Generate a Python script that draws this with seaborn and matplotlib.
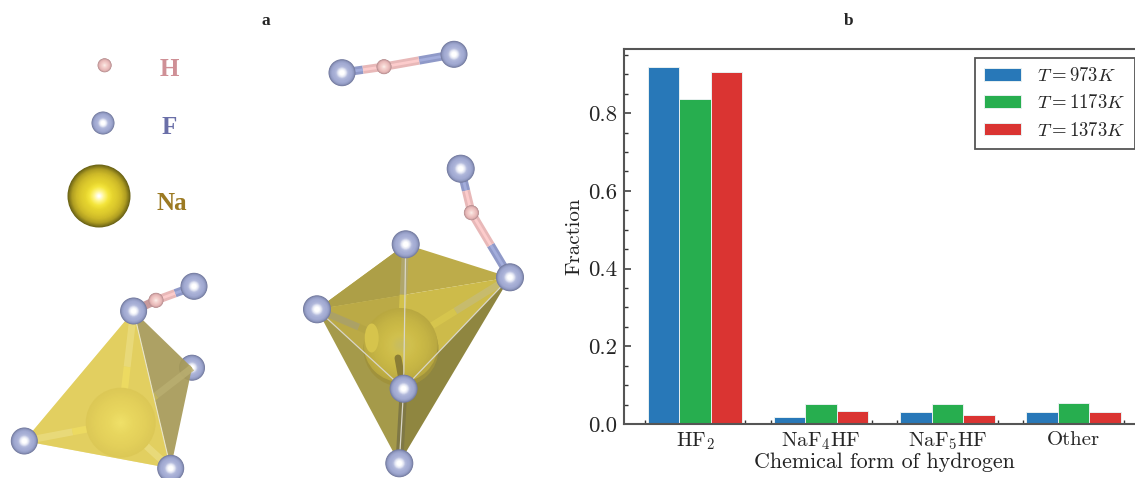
import matplotlib

matplotlib.use("Agg")
import matplotlib.pyplot as plt
import numpy as np
import pandas as pd
import seaborn as sns
from matplotlib.colors import to_rgb
from matplotlib.patches import Circle, Ellipse, Polygon
from matplotlib.ticker import MultipleLocator

# bar chart values
forms = ["HF$_2$", "NaF$_4$HF", "NaF$_5$HF", "Other"]
temps = ["$T=973K$", "$T=1173K$", "$T=1373K$"]
frac_973 = [0.919, 0.017, 0.032, 0.030]
frac_1173 = [0.837, 0.051, 0.051, 0.055]
frac_1373 = [0.906, 0.033, 0.024, 0.032]
bar_colors = ["#2878b8", "#27ae4f", "#da3432"]

# atoms of the structure panel, in image pixels
key_h = (104.6, 65.3)
key_f = (103, 123)
key_na = (99, 196)
free_mol = [(342, 72.7), (384, 66.7), (454, 54.3)]
right_mol = [(460.7, 168.7), (471.4, 212.7), (510, 277.3)]
left_mol = [(133.6, 311), (156, 300.3), (194, 286.3)]
left_f = {"right": (192, 367.7), "left": (24.3, 441), "bottom": (170.7, 468.3)}
left_na = (120.7, 422.7)
right_f = {"top": (405.7, 244.3), "left": (317, 309.3), "front": (403.6, 388.7), "bottom": (399.3, 463.3)}
right_na = (400.7, 345)

F_RAMP = ["#747b9f", "#949dc5", "#a3abd3", "#a8b0d6", "#b4bbdd", "#e4e7f4", "#ffffff", "#ffffff"]
H_RAMP = ["#b58d8f", "#e6b6b6", "#f0c6c4", "#f6d6d2", "#fbeeea"]
NA_RAMP = ["#6b6316", "#b09e22", "#cdb928", "#dcc92c", "#e6d42e", "#f5e63c", "#fff68a", "#ffffff"]
NA_SOFT = ["#dcc856", "#e3d05a", "#e8d65e", "#efe068"]
NA_DARK = ["#b9a840", "#c4b344", "#ccba46", "#d0c04e", "#c8bc62"]


def ball(ax, center, r, ramp, zorder, n=30):
    stops = np.array([to_rgb(c) for c in ramp])
    pos = np.linspace(0, 1, len(ramp))
    for i in range(n):
        t = i / (n - 1)
        col = [np.interp(t, pos, stops[:, k]) for k in range(3)]
        ax.add_patch(Circle(center, r * (1 - t * 0.96), fc=col, ec="none", zorder=zorder))


def bond(ax, a, b, zorder, colors=("#8f99c8", "#e8b8b8"), core=True):
    # half and half colouring, fluorine side first
    a, b = np.array(a), np.array(b)
    mid = (a + b) / 2
    for start, end, col in [(a, mid, colors[0]), (mid, b, colors[1])]:
        ax.plot([start[0], end[0]], [start[1], end[1]], color=col, lw=6, zorder=zorder, solid_capstyle="butt")
        if core:
            light = [min(1, c + 0.08) for c in to_rgb(col)]
            ax.plot([start[0], end[0]], [start[1], end[1]], color=light, lw=2, zorder=zorder, solid_capstyle="butt")


def face(ax, pts, color, zorder, alpha=1.0):
    ax.add_patch(Polygon(pts, closed=True, fc=color, ec="none", alpha=alpha, zorder=zorder))


def spoke(ax, a, b, zorder, colors=("#b0a873", "#d8c74e"), alpha=0.85):
    a, b = np.array(a), np.array(b)
    mid = (a + b) / 2
    for start, end, col in [(a, mid, colors[0]), (mid, b, colors[1])]:
        ax.plot([start[0], end[0]], [start[1], end[1]], color=col, lw=5, alpha=alpha, zorder=zorder, solid_capstyle="butt")


def draw_mol(ax, mol, zorder, r=13.5):
    bond(ax, mol[0], mol[1], zorder)
    bond(ax, mol[2], mol[1], zorder)
    ball(ax, mol[0], r, F_RAMP, zorder + 1)
    ball(ax, mol[2], r, F_RAMP, zorder + 1)
    ball(ax, mol[1], 7.5, H_RAMP, zorder + 1)


sns.set_style("ticks")
plt.rcParams["font.family"] = ["cmr10"]
plt.rcParams["mathtext.fontset"] = "cm"
plt.rcParams["axes.formatter.use_mathtext"] = True
plt.rcParams["axes.unicode_minus"] = False

fig = plt.figure(figsize=(11.35, 4.78), dpi=100)

# panel a, drawn in image pixels
pic = fig.add_axes([0, 0, 1, 1])
pic.set_xlim(0, 1135)
pic.set_ylim(478, 0)
pic.axis("off")

ball(pic, key_h, 7, H_RAMP, 2)
ball(pic, key_f, 11.5, F_RAMP, 2)
ball(pic, key_na, 31.5, NA_RAMP, 2, n=44)
label_font = ["Liberation Serif"]
pic.text(169, 69, "H", color="#cf9096", fontsize=18, fontweight="bold", family=label_font, ha="center", va="center")
pic.text(169, 127, "F", color="#6a6fa8", fontsize=18, fontweight="bold", family=label_font, ha="center", va="center")
pic.text(172, 203, "Na", color="#9c7a22", fontsize=18, fontweight="bold", family=label_font, ha="center", va="center")
pic.text(266, 21, "a", fontsize=12.5, fontweight="bold", family=label_font, ha="center", va="center")
pic.text(848.6, 21, "b", fontsize=12.5, fontweight="bold", family=label_font, ha="center", va="center")

draw_mol(pic, free_mol, 3)

# left tetrahedron
top = left_mol[0]
ball(pic, left_f["right"], 13, F_RAMP, 2)
face(pic, [top, left_f["right"], left_f["bottom"]], "#a79a58", 3, alpha=0.93)
face(pic, [top, left_f["left"], left_f["bottom"]], "#e2cf60", 4)
soft = ("#eadb7e", "#eedc62")
spoke(pic, left_f["right"], left_na, 3.5, colors=("#b9ae70", "#c5b85e"))
face(pic, [top, left_f["left"], left_f["bottom"]], "#e2cf60", 4, alpha=0.5)
spoke(pic, top, left_na, 4.5, colors=soft)
spoke(pic, left_f["left"], left_na, 4.5, colors=soft)
spoke(pic, left_f["bottom"], left_na, 4.5, colors=soft)
ball(pic, left_na, 35, NA_SOFT, 5)
pic.plot([top[0], left_f["bottom"][0]], [top[1], left_f["bottom"][1]], color="#e8e4c8", lw=0.8, zorder=6)
bond(pic, top, left_mol[1], 6, colors=("#6a6a8c", "#c89a9c"), core=False)
bond(pic, left_mol[2], left_mol[1], 6)
ball(pic, top, 13.5, F_RAMP, 7)
ball(pic, left_mol[2], 13.5, F_RAMP, 7)
ball(pic, left_mol[1], 7.5, H_RAMP, 7)
for name in ["left", "bottom"]:
    ball(pic, left_f[name], 13.5, F_RAMP, 7)

# right polyhedron
f_top, f_left, f_right = right_f["top"], right_f["left"], right_mol[2]
f_front, f_bottom = right_f["front"], right_f["bottom"]
cross = (405.7, 294.7)
face(pic, [f_top, f_left, f_right], "#bdac4a", 2)
face(pic, [f_left, f_right, f_front], "#cdbb4a", 2)
face(pic, [f_top, f_left, cross], "#ad9f47", 3)
face(pic, [f_left, cross, f_front], "#bbaa46", 3)
face(pic, [f_left, f_front, f_bottom], "#a59a4a", 3)
face(pic, [f_right, f_front, f_bottom], "#8f8640", 3)
ball(pic, (401, 349), 37.5, ["#a0923c", "#a0923c"], 3.2)
spoke(pic, f_top, right_na, 3.4)
spoke(pic, f_left, right_na, 3.4, colors=("#a9a06c", "#b5a544"))
spoke(pic, f_right, right_na, 3.4, colors=("#c6bc74", "#d8c74e"))
ball(pic, right_na, 37, NA_DARK, 4)
pic.add_patch(Ellipse((371.7, 338), 14, 29, fc="#d6c44c", ec="none", zorder=4.2))
pic.plot([398, f_front[0]], [358, f_front[1]], color="#8a7d35", lw=5, zorder=4.3, solid_capstyle="round")
pic.plot([f_front[0], f_bottom[0]], [f_front[1], f_bottom[1]], color="#7f7845", lw=5.5, zorder=4.3)
for end in [f_top, f_left, f_right]:
    pic.plot([end[0], f_front[0]], [end[1], f_front[1]], color="#d9d6c8", lw=0.9, zorder=5)
pic.plot([f_front[0], f_bottom[0]], [f_front[1], f_bottom[1]], color="#d9d6c8", lw=0.9, zorder=5)
draw_mol(pic, right_mol, 5, r=14)
for name in ["top", "left", "bottom", "front"]:
    ball(pic, right_f[name], 14, F_RAMP, 7)

# panel b
df = pd.DataFrame(
    {
        "form": forms * 3,
        "temp": [t for t in temps for _ in forms],
        "fraction": frac_973 + frac_1173 + frac_1373,
    }
)

ax = fig.add_axes([624 / 1135, 54 / 478, 520.5 / 1135, 375 / 478])
ax.patch.set_alpha(0)
sns.barplot(
    data=df,
    x="form",
    y="fraction",
    hue="temp",
    palette=bar_colors,
    saturation=1,
    width=0.75,
    edgecolor="#e8f0f0",
    linewidth=0.7,
    ax=ax,
)
ax.set_xlim(-0.5625, 3.5625)
ax.set_ylim(0, 0.965)
ax.set_yticks([0, 0.2, 0.4, 0.6, 0.8])
ax.yaxis.set_major_formatter(plt.FormatStrFormatter("%.1f"))
ax.yaxis.set_minor_locator(MultipleLocator(0.05))
ax.xaxis.set_minor_locator(MultipleLocator(0.2))
ax.tick_params(axis="both", which="major", direction="in", length=5, width=1.1, color="#333333", labelsize=15, pad=5)
ax.tick_params(axis="both", which="minor", direction="in", length=3, width=1.0, color="#333333")
ax.tick_params(axis="y", which="major", labelsize=16.5)
ax.set_xlabel("Chemical form of hydrogen", fontsize=15.8, labelpad=0, color="#222222")
ax.set_ylabel("Fraction", fontsize=15, labelpad=3, color="#222222")
for side in ["top", "left", "bottom", "right"]:
    ax.spines[side].set_linewidth(1.5)
    ax.spines[side].set_color("#555555")

handles, labels = ax.get_legend_handles_labels()
leg = ax.legend(
    handles,
    labels,
    loc="upper right",
    bbox_to_anchor=(1134.5 / 1135, (478 - 57.5) / 478),
    bbox_transform=fig.transFigure,
    borderaxespad=0,
    fontsize=13.5,
    frameon=True,
    fancybox=False,
    framealpha=1,
    edgecolor="#555555",
    handlelength=1.96,
    handleheight=0.66,
    handletextpad=0.85,
    labelspacing=0.5,
    borderpad=0.5,
)
leg.get_frame().set_linewidth(1.3)

fig.savefig("out.png", dpi=100)
